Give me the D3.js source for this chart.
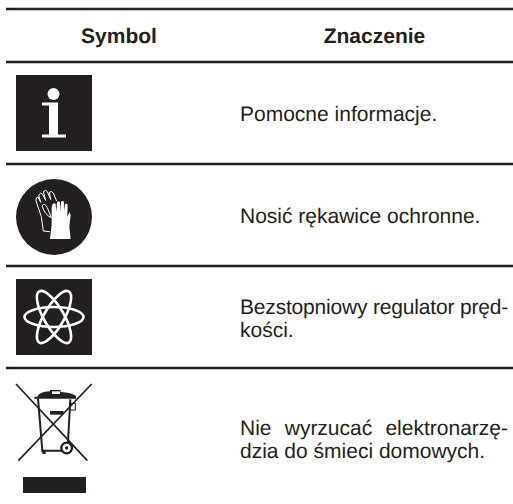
<!DOCTYPE html>
<html>
<head>
<meta charset="utf-8">
<script src="https://cdn.jsdelivr.net/npm/d3@7"></script>
<style>
  html, body { margin: 0; padding: 0; background: #fff; }
  text { font-family: "Liberation Sans", Arial, sans-serif; fill: #231f20; text-rendering: geometricPrecision; }
</style>
</head>
<body>
<div id="canvas"></div>
<script>
const headers = ["Symbol", "Znaczenie"];
const symbols = ["info", "gloves", "atom", "bin"];
const meanings = [
    ["Pomocne informacje."],
    ["Nosić rękawice ochronne."],
    ["Bezstopniowy regulator pręd-", "kości."],
    ["Nie wyrzucać elektronarzę-", "dzia do śmieci domowych."]
];

const width = 513;
const height = 504;
const ink = "#231f20";

const svg = d3.select("#canvas").append("svg")
    .attr("width", width)
    .attr("height", height)
    .style("display", "block");

// row 0 is the first one under the header, all rows are the same height
const y = d3.scaleLinear().domain([0, 4]).range([62, 470]);
const rules = [9].concat(d3.range(4).map(i => y(i)));
const textX = 240;
const textRight = 508;
const fontSize = 21;
const lineHeight = 22.5;

const icons = {
    info(g) {
        g.append("rect").attr("x", 16).attr("y", 13).attr("width", 76).attr("height", 76).attr("fill", ink);
        g.append("circle").attr("cx", 53.5).attr("cy", 32).attr("r", 6).attr("fill", "#fff");
        g.append("path").attr("fill", "#fff")
            .attr("d", "M42 40.5H58V72.5H66V75.5H42V72.5H49V43.5H42Z");
    },
    gloves(g) {
        g.append("circle").attr("cx", 54).attr("cy", 53).attr("r", 38).attr("fill", ink);
        const t = g.append("g").attr("transform", `translate(14, 11) scale(${1 / 3})`);
        t.append("path").attr("fill", "#fff")
            .attr("d", "M108 192L113 150V95Q116 84 120 85L125 86L127 110L129 82Q134 76 138 82L139 110L141 80Q146 75 150 81L151 110L153 88Q158 84 161 90L160 125L166 112L170 120L166 155L170 192Z");
        t.append("path").attr("fill", "none").attr("stroke", "#fff").attr("stroke-width", 3)
            .attr("d", "M108 170L88 168L82 125L66 78Q64 66 72 66L80 82L74 60Q80 50 86 58L95 76L88 50Q94 42 100 50L110 74L106 52Q112 46 118 54L128 78");
        t.append("path").attr("fill", "none").attr("stroke", "#fff").attr("stroke-width", 3)
            .attr("d", "M84 92Q92 82 100 98L112 128Q92 120 84 92Z");
    },
    atom(g) {
        g.append("rect").attr("x", 16).attr("y", 13).attr("width", 76).attr("height", 76).attr("fill", ink);
        g.selectAll("ellipse")
            .data([0, 60, -60])
            .enter().append("ellipse")
            .attr("rx", 29.5)
            .attr("ry", 10)
            .attr("fill", "none")
            .attr("stroke", "#fff")
            .attr("stroke-width", 2.6)
            .attr("transform", a => `translate(54, 51) rotate(${a})`);
    },
    bin(g) {
        const t = g.append("g").attr("transform", `translate(0, -128) scale(${1 / 3})`);
        const crossed = [[48, 432, 262, 662], [275, 432, 55, 662]];
        t.selectAll("line")
            .data(crossed)
            .enter().append("line")
            .attr("x1", d => d[0]).attr("y1", d => d[1])
            .attr("x2", d => d[2]).attr("y2", d => d[3])
            .attr("stroke", ink)
            .attr("stroke-width", 5);
        // body
        t.append("path").attr("fill", "none").attr("stroke", ink).attr("stroke-width", 6)
            .attr("d", "M114 475L127 632H186M211 478L204 606");
        // rim and lid
        t.append("path").attr("fill", "none").attr("stroke", ink).attr("stroke-width", 6)
            .attr("d", "M103 473H225");
        t.append("path").attr("fill", ink)
            .attr("d", "M112 470Q116 456 150 454V450H182V456Q215 458 228 468V478L220 472H112Z");
        t.append("rect").attr("x", 156).attr("y", 454).attr("width", 24).attr("height", 8).attr("fill", "#fff");
        t.append("rect").attr("x", 150).attr("y", 513).attr("width", 40).attr("height", 11).attr("fill", ink);
        t.append("rect").attr("x", 209).attr("y", 490).attr("width", 17).attr("height", 20)
            .attr("fill", "none").attr("stroke", ink).attr("stroke-width", 3);
        t.append("rect").attr("x", 127).attr("y", 630).attr("width", 10).attr("height", 12).attr("fill", ink);
        // wheel
        t.append("circle").attr("cx", 200).attr("cy", 624).attr("r", 16)
            .attr("fill", "#fff").attr("stroke", ink).attr("stroke-width", 7);
        t.append("circle").attr("cx", 200).attr("cy", 624).attr("r", 5).attr("fill", ink);
        // black bar under the bin
        g.append("rect").attr("x", 23).attr("y", 109).attr("width", 63).attr("height", 16).attr("fill", ink);
    }
};

svg.selectAll("line.rule")
    .data(rules)
    .enter().append("line")
    .attr("class", "rule")
    .attr("x1", 6)
    .attr("x2", width)
    .attr("y1", d => d)
    .attr("y2", d => d)
    .attr("stroke", ink)
    .attr("stroke-width", 2.4);

svg.selectAll("text.head")
    .data(headers)
    .enter().append("text")
    .attr("class", "head")
    .attr("x", (d, i) => i === 0 ? 119 : 374.5)
    .attr("y", 43)
    .attr("text-anchor", "middle")
    .attr("font-size", fontSize)
    .attr("font-weight", "bold")
    .text(d => d);

const rows = svg.selectAll("g.row")
    .data(symbols.map((s, i) => ({ symbol: s, lines: meanings[i] })))
    .enter().append("g")
    .attr("class", "row")
    .attr("transform", (d, i) => `translate(0, ${y(i)})`);

rows.each(function (d) {
    const g = d3.select(this);
    const n = d.lines.length;
    const firstBase = n === 1 ? 58.5 : (d.symbol === "atom" ? 48 : 67);
    const t = g.selectAll("text")
        .data(d.lines)
        .enter().append("text")
        .attr("x", textX)
        .attr("y", (l, i) => firstBase + i * lineHeight)
        .attr("font-size", fontSize)
        .text(l => l);
    // justified text: every line but the last one of a paragraph
    t.each(function (l, i) {
        if (i < n - 1) {
            const spare = textRight - textX - this.getComputedTextLength();
            if (spare < 0) {
                // too long for the column: tighten the letters, not the gaps
                d3.select(this).style("letter-spacing", `${spare / l.length}px`);
            } else {
                d3.select(this).style("word-spacing", `${spare / (l.split(" ").length - 1)}px`);
            }
        }
    });
    icons[d.symbol](g);
});
</script>
</body>
</html>
